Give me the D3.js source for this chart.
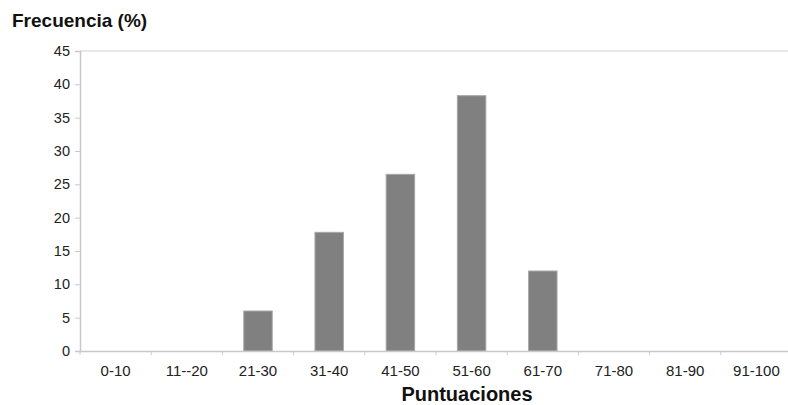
<!DOCTYPE html>
<html>
<head>
<meta charset="utf-8">
<script src="https://cdn.jsdelivr.net/npm/d3@7"></script>
<style>
  html, body { margin: 0; padding: 0; background: #fff; }
  svg { display: block; font-family: "Liberation Sans", Arial, sans-serif; }
</style>
</head>
<body>
<svg id="chart" width="788" height="405"></svg>
<script>
const categories = ["0-10", "11--20", "21-30", "31-40", "41-50", "51-60", "61-70", "71-80", "81-90", "91-100"];
const values = [0, 0, 6, 17.8, 26.5, 38.3, 12, 0, 0, 0];
const yTicks = [0, 5, 10, 15, 20, 25, 30, 35, 40, 45];
const yTitle = "Frecuencia (%)";
const xTitle = "Puntuaciones";

const svg = d3.select("#chart");
const plotLeft = 80, plotRight = 792, plotTop = 51, plotBottom = 351;

const x = d3.scaleBand().domain(categories).range([plotLeft, plotRight]).paddingInner(0.6).paddingOuter(0.3);
const xb = d3.scaleBand().domain(categories).range([plotLeft, plotRight]);
const y = d3.scaleLinear().domain([0, 45]).range([plotBottom, plotTop]);

// top border line
svg.append("line").attr("x1", plotLeft).attr("x2", 788).attr("y1", y(45)).attr("y2", y(45))
  .attr("stroke", "#e2e2e2").attr("stroke-width", 1.5);

// bars
svg.append("g").selectAll("rect").data(values).join("rect")
  .attr("x", (d, i) => x(categories[i]))
  .attr("width", x.bandwidth())
  .attr("y", d => y(d))
  .attr("height", d => y(0) - y(d))
  .attr("fill", "#808080")
  .attr("stroke", "#a8a8a8")
  .attr("stroke-width", 1);

// y axis
const yAxis = svg.append("g").attr("transform", `translate(${plotLeft},0)`)
  .call(d3.axisLeft(y).tickValues(yTicks).tickSize(5).tickPadding(5));
yAxis.select(".domain").attr("stroke", "#c8c8c8").attr("stroke-width", 1.5);
yAxis.selectAll(".tick line").attr("stroke", "#c8c8c8");
yAxis.selectAll(".tick text").attr("font-size", "14.5px").attr("fill", "#222")
  .attr("font-family", "Liberation Sans, Arial, sans-serif");

// x axis
const xAxis = svg.append("g").attr("transform", `translate(0,${plotBottom})`)
  .call(d3.axisBottom(xb).tickSize(0).tickPadding(14));
xAxis.select(".domain").attr("stroke", "#c8c8c8").attr("stroke-width", 1.5);
xAxis.selectAll(".tick text").attr("font-size", "15px").attr("fill", "#222")
  .attr("font-family", "Liberation Sans, Arial, sans-serif");
// boundary ticks
xAxis.append("g").selectAll("line").data(categories).join("line")
  .attr("x1", d => xb(d)).attr("x2", d => xb(d))
  .attr("y1", 0).attr("y2", 4)
  .attr("stroke", "#c8c8c8");

// titles
svg.append("text").attr("x", 12).attr("y", 27).text(yTitle)
  .attr("font-size", "19px").attr("font-weight", "bold").attr("fill", "#111");
svg.append("text").attr("x", 467).attr("y", 401).attr("text-anchor", "middle").text(xTitle)
  .attr("font-size", "20px").attr("font-weight", "bold").attr("fill", "#111");
</script>
</body>
</html>
